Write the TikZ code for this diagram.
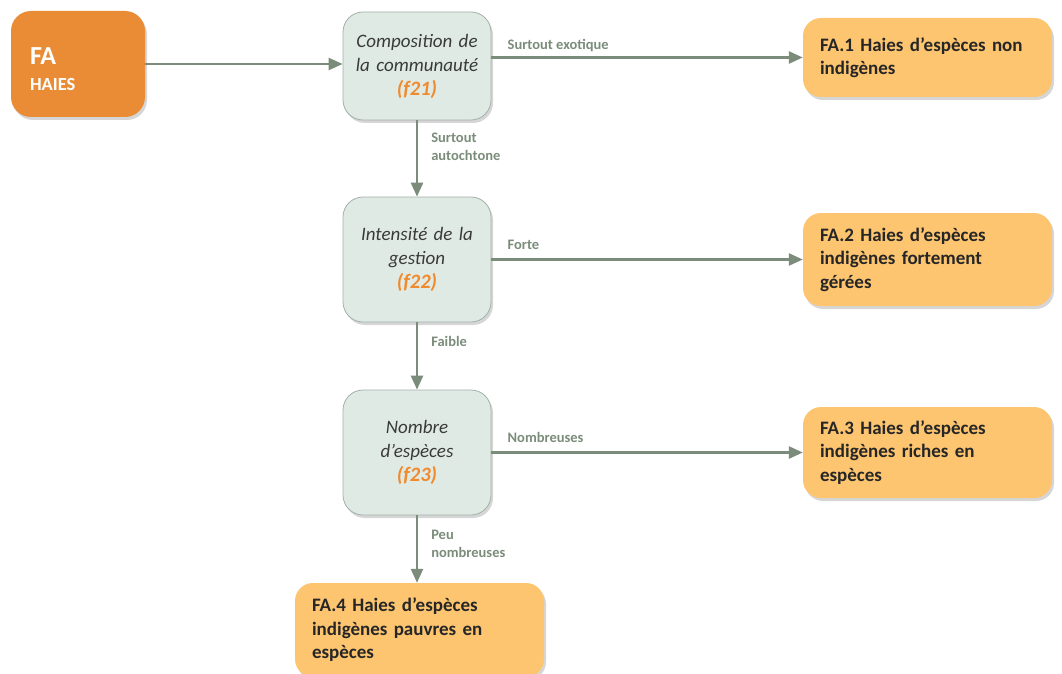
\documentclass[tikz,border=0pt]{standalone}
\usepackage{fontspec}
\setmainfont{Carlito}
\usetikzlibrary{arrows.meta,shadows}
\definecolor{faor}{HTML}{E98C35}
\definecolor{outfill}{HTML}{FDC56F}
\definecolor{decfill}{HTML}{E0EAE5}
\definecolor{decline}{HTML}{A3B1AA}
\definecolor{arrc}{HTML}{7B8D7A}
\definecolor{fcode}{HTML}{F08A2C}
\definecolor{dtext}{HTML}{3A3A3A}
\definecolor{otext}{HTML}{262626}
\tikzset{
  shad/.style={drop shadow={shadow xshift=2pt, shadow yshift=-3pt, opacity=0.16, fill=black}},
  fabox/.style={shad, fill=faor, rounded corners=20, minimum width=134, minimum height=106,
    text width=96, inner xsep=19, align=left, text=white, font=\bfseries\fontsize{18.5}{26}\selectfont},
  decbox/.style={shad, draw=decline, line width=0.8, fill=decfill, rounded corners=20,
    minimum width=148, text width=140, inner xsep=4, align=center, text=dtext,
    font=\itshape\fontsize{19}{24}\selectfont},
  outbox/.style={shad, fill=outfill, rounded corners=18, minimum width=249,
    text width=215, inner xsep=17, align=left, text=otext,
    font=\bfseries\fontsize{19}{23.5}\selectfont},
  arr/.style={draw=arrc, line width=2.5, -{Triangle[length=14pt,width=12pt]}, arrc},
  lbl/.style={text=arrc, font=\bfseries\fontsize{14.5}{18}\selectfont, inner sep=0, align=left},
}
\newcommand{\fcd}[1]{{\bfseries\color{fcode}\fontsize{20.5}{24}\selectfont(#1)}}
\begin{document}
\begin{tikzpicture}[x=1pt,y=-1pt]
\useasboundingbox (0,0) rectangle (1062,674);
\fill[white] (0,0) rectangle (1062,674);

\node[fabox] (fa) at (78,64) {{\fontsize{26}{30}\selectfont\rule{0pt}{27pt}FA}\\HAIES};

\node[decbox, minimum height=108] (comp) at (417,66) {Composition de\\la communauté\\\fcd{f21}};
\node[decbox, minimum height=125] (int) at (417,259.5) {Intensité de la\\gestion\\\fcd{f22}};
\node[decbox, minimum height=125] (nom) at (417,452.5) {Nombre\\d’espèces\\\fcd{f23}};

\node[outbox, minimum height=79] (fa1) at (927.5,57.5) {FA.1 Haies d’espèces non\\indigènes};
\node[outbox, minimum height=93] (fa2) at (927.5,259.5) {FA.2 Haies d’espèces\\indigènes fortement\\gérées};
\node[outbox, minimum height=91] (fa3) at (927.5,452.5) {FA.3 Haies d’espèces\\indigènes riches en\\espèces};
\node[outbox, minimum height=94] (fa4) at (419.5,630) {FA.4 Haies d’espèces\\indigènes pauvres en\\espèces};

\draw[arr] (fa.east) -- (fa.east -| comp.west);
\draw[arr] (fa1.west -| comp.east) -- node[lbl, at start, anchor=base west, xshift=15, yshift=8] {Surtout exotique} (fa1.west);
\draw[arr] (fa2.west -| int.east) -- node[lbl, at start, anchor=base west, xshift=15, yshift=10] {Forte} (fa2.west);
\draw[arr] (fa3.west -| nom.east) -- node[lbl, at start, anchor=base west, xshift=15, yshift=10] {Nombreuses} (fa3.west);

\draw[arr] (comp.south) -- node[lbl, at start, anchor=north west, xshift=13, yshift=-11] {Surtout\\autochtone} (int.north);
\draw[arr] (int.south) -- node[lbl, at start, anchor=north west, xshift=13, yshift=-13] {Faible} (nom.north);
\draw[arr] (nom.south) -- node[lbl, at start, anchor=north west, xshift=13, yshift=-13] {Peu\\nombreuses} (nom.south |- fa4.north);
\end{tikzpicture}
\end{document}
